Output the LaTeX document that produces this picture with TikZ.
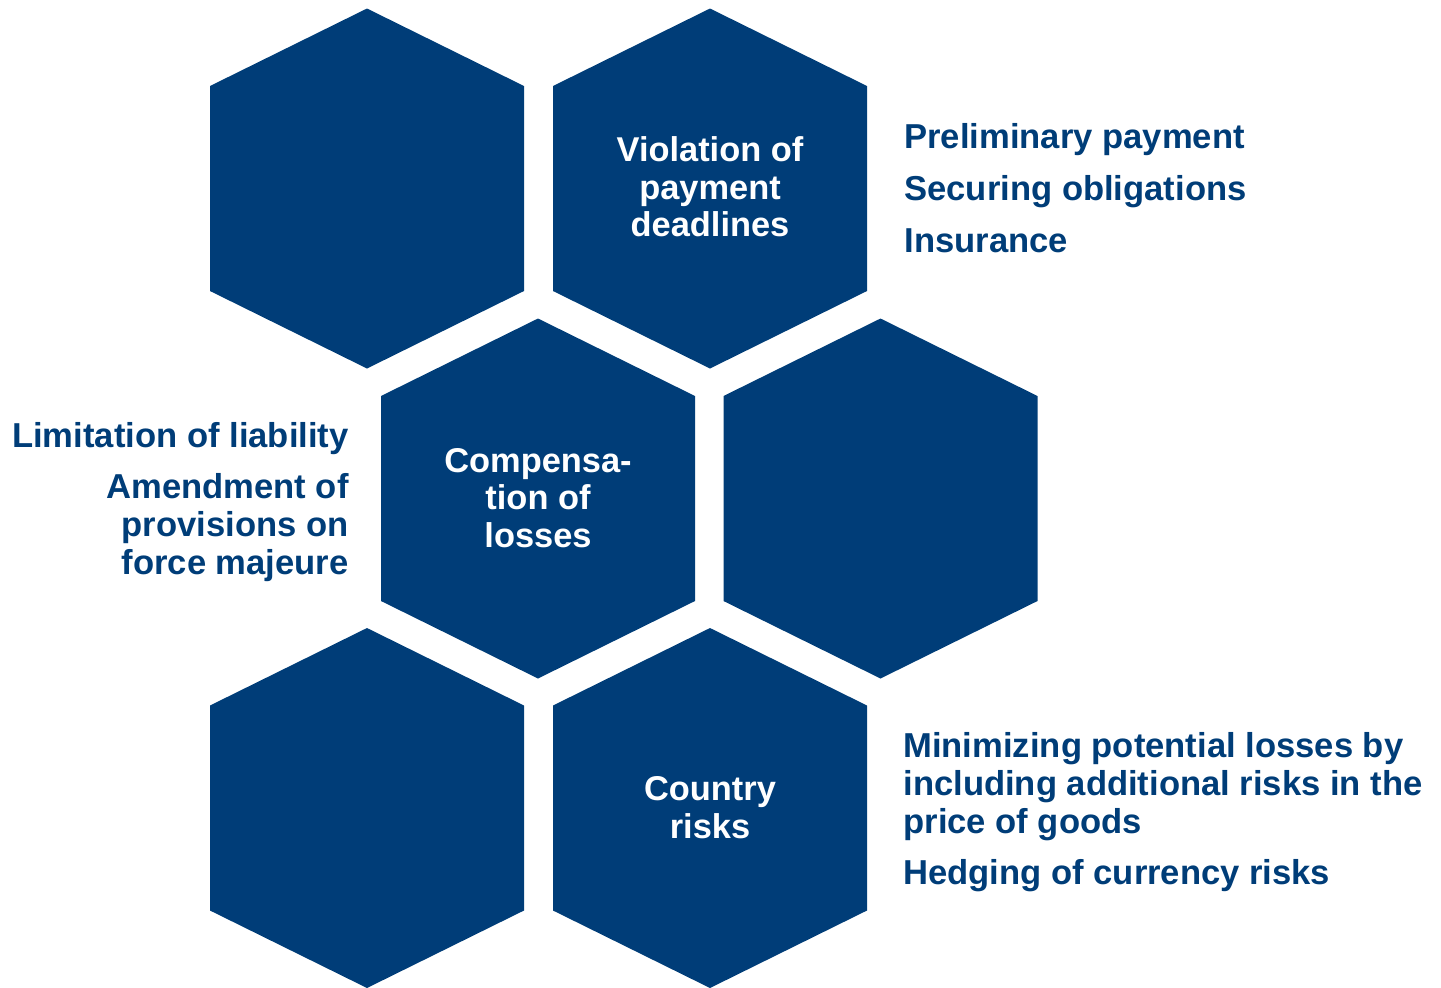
\documentclass[tikz,border=0pt]{standalone}
\usepackage{fontspec}
\setmainfont{Liberation Sans}
\definecolor{hexblue}{RGB}{0,61,120}
\tikzset{
  hexfill/.style={fill=hexblue},
  hexa/.pic={\fill[hexfill] (0,-180) -- (157,-102.5) -- (157,102.5) -- (0,180) -- (-157,102.5) -- (-157,-102.5) -- cycle;},
  hextext/.style={text=white, font=\bfseries\fontsize{17.2}{18.7}\selectfont, align=center, inner sep=0pt},
  sidetext/.style={text=hexblue, font=\bfseries\fontsize{17.3}{18.9}\selectfont, inner sep=0pt},
}
\begin{document}
\begin{tikzpicture}[x=0.5pt,y=-0.5pt]
\useasboundingbox (0,0) rectangle (1441,987);
% hexagons
\pic at (367,188.5) {hexa};
\pic at (710,188.5) {hexa};
\pic at (538,498.5) {hexa};
\pic at (880.5,498.5) {hexa};
\pic at (367,808) {hexa};
\pic at (710,808) {hexa};
% hexagon labels (anchor=base: baseline of the last line)
\node[hextext, anchor=base] (violation) at (710,236.5) {Violation of\\payment\\deadlines};
\node[hextext, anchor=base] (compensation) at (538,547) {Compensa-\\tion of\\losses};
\node[hextext, anchor=base] (country) at (710,838) {Country\\risks};
% side texts
\node[sidetext, anchor=base west] (prelim) at (904,148) {Preliminary payment};
\node[sidetext, anchor=base west] (securing) at (904,200.5) {Securing obligations};
\node[sidetext, anchor=base west] (insurance) at (904,252) {Insurance};
\node[sidetext, anchor=base east] (limitation) at (349,447) {Limitation of liability};
\node[sidetext, anchor=base east, align=right] (amendment) at (349,574.5) {Amendment of\\provisions on\\force majeure};
\node[sidetext, anchor=base west, align=left] (minimizing) at (903,833) {Minimizing potential losses by\\including additional risks in the\\price of goods};
\node[sidetext, anchor=base west] (hedging) at (903,884) {Hedging of currency risks};
\end{tikzpicture}
\end{document}
